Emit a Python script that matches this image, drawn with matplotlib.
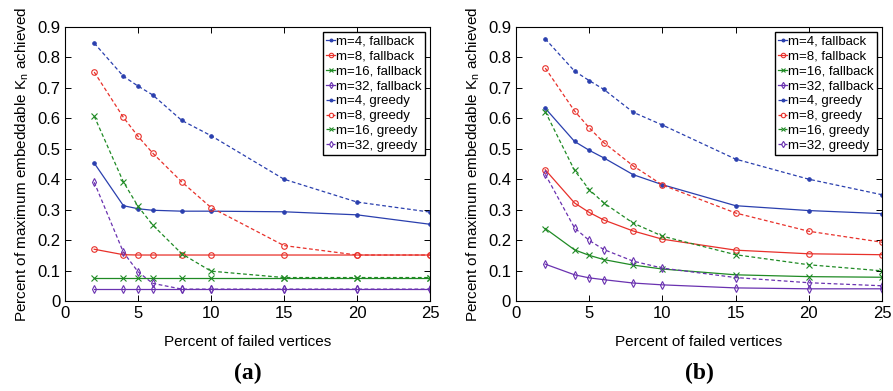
import numpy as np
import matplotlib.pyplot as plt

plt.rcParams['font.family'] = ['Liberation Sans', 'DejaVu Sans']

x = [2, 4, 5, 6, 8, 10, 15, 20, 25]

# panel (a)
a_fallback = {
    4: [0.453, 0.313, 0.303, 0.298, 0.295, 0.295, 0.293, 0.283, 0.252],
    8: [0.170, 0.152, 0.151, 0.151, 0.151, 0.151, 0.151, 0.151, 0.151],
    16: [0.077, 0.077, 0.077, 0.077, 0.077, 0.077, 0.077, 0.077, 0.077],
    32: [0.039, 0.039, 0.039, 0.039, 0.039, 0.039, 0.039, 0.039, 0.039],
}
a_greedy = {
    4: [0.847, 0.738, 0.706, 0.677, 0.593, 0.543, 0.400, 0.325, 0.292],
    8: [0.752, 0.603, 0.541, 0.486, 0.391, 0.307, 0.182, 0.151, 0.151],
    16: [0.607, 0.391, 0.311, 0.250, 0.155, 0.098, 0.077, 0.077, 0.077],
    32: [0.390, 0.160, 0.096, 0.058, 0.039, 0.039, 0.039, 0.039, 0.039],
}

# panel (b)
b_fallback = {
    4: [0.633, 0.524, 0.495, 0.470, 0.415, 0.382, 0.313, 0.297, 0.287],
    8: [0.431, 0.322, 0.291, 0.266, 0.230, 0.203, 0.167, 0.155, 0.152],
    16: [0.238, 0.168, 0.150, 0.136, 0.118, 0.105, 0.086, 0.080, 0.078],
    32: [0.121, 0.086, 0.076, 0.070, 0.059, 0.053, 0.043, 0.040, 0.040],
}
b_greedy = {
    4: [0.861, 0.755, 0.724, 0.695, 0.620, 0.578, 0.466, 0.400, 0.349],
    8: [0.765, 0.624, 0.569, 0.520, 0.444, 0.381, 0.289, 0.229, 0.193],
    16: [0.622, 0.429, 0.366, 0.322, 0.256, 0.213, 0.152, 0.119, 0.099],
    32: [0.416, 0.240, 0.199, 0.169, 0.131, 0.108, 0.077, 0.060, 0.050],
}

colors = {4: '#2a3fae', 8: '#e8302a', 16: '#1f8a24', 32: '#6a32b0'}
markers = {4: '.', 8: 'o', 16: 'x', 32: 'd'}


def draw(ax, fallback, greedy, tag):
    for m in [4, 8, 16, 32]:
        ax.plot(x, fallback[m], '-', color=colors[m], marker=markers[m],
                ms=4 if m != 4 else 5, mfc='none' if m in (8, 32) else colors[m],
                mew=0.8, lw=0.9, label=f'm={m}, fallback')
    for m in [4, 8, 16, 32]:
        ax.plot(x, greedy[m], '--', color=colors[m], marker=markers[m],
                ms=4 if m != 4 else 5, mfc='none' if m in (8, 32) else colors[m],
                mew=0.8, lw=0.9, dashes=(3, 2), label=f'm={m}, greedy')
    ax.set_xlim(0, 25)
    ax.set_ylim(0, 0.9)
    ax.set_xticks([0, 5, 10, 15, 20, 25])
    ax.set_yticks(np.arange(0, 0.91, 0.1))
    ax.set_yticklabels(['0', '0.1', '0.2', '0.3', '0.4', '0.5', '0.6', '0.7', '0.8', '0.9'])
    ax.tick_params(direction='in', top=True, right=True, labelsize=12, length=4, width=0.7)
    for s in ax.spines.values():
        s.set_linewidth(0.8)
    ax.set_xlabel('Percent of failed vertices', fontsize=11, labelpad=10)
    ax.set_ylabel('Percent of maximum embeddable K$_\\mathregular{n}$ achieved', fontsize=11)
    leg = ax.legend(loc='upper right', fontsize=9.5, handlelength=0.7, borderpad=0.25,
                    labelspacing=0.2, handletextpad=0.05, fancybox=False,
                    edgecolor='black', framealpha=1, borderaxespad=0.4,
                    markerscale=0.8)
    leg.get_frame().set_linewidth(1.0)
    ax.text(0.5, -0.265, tag, transform=ax.transAxes, ha='center', va='center',
            fontsize=17, fontweight='bold', family='Liberation Serif')


fig = plt.figure(figsize=(8.93, 3.91), dpi=100)
ax1 = fig.add_axes([0.0728, 0.2302, 0.4087, 0.7008])
ax2 = fig.add_axes([0.5778, 0.2302, 0.4099, 0.7008])
draw(ax1, a_fallback, a_greedy, '(a)')
draw(ax2, b_fallback, b_greedy, '(b)')
fig.savefig('out.png', dpi=100)
